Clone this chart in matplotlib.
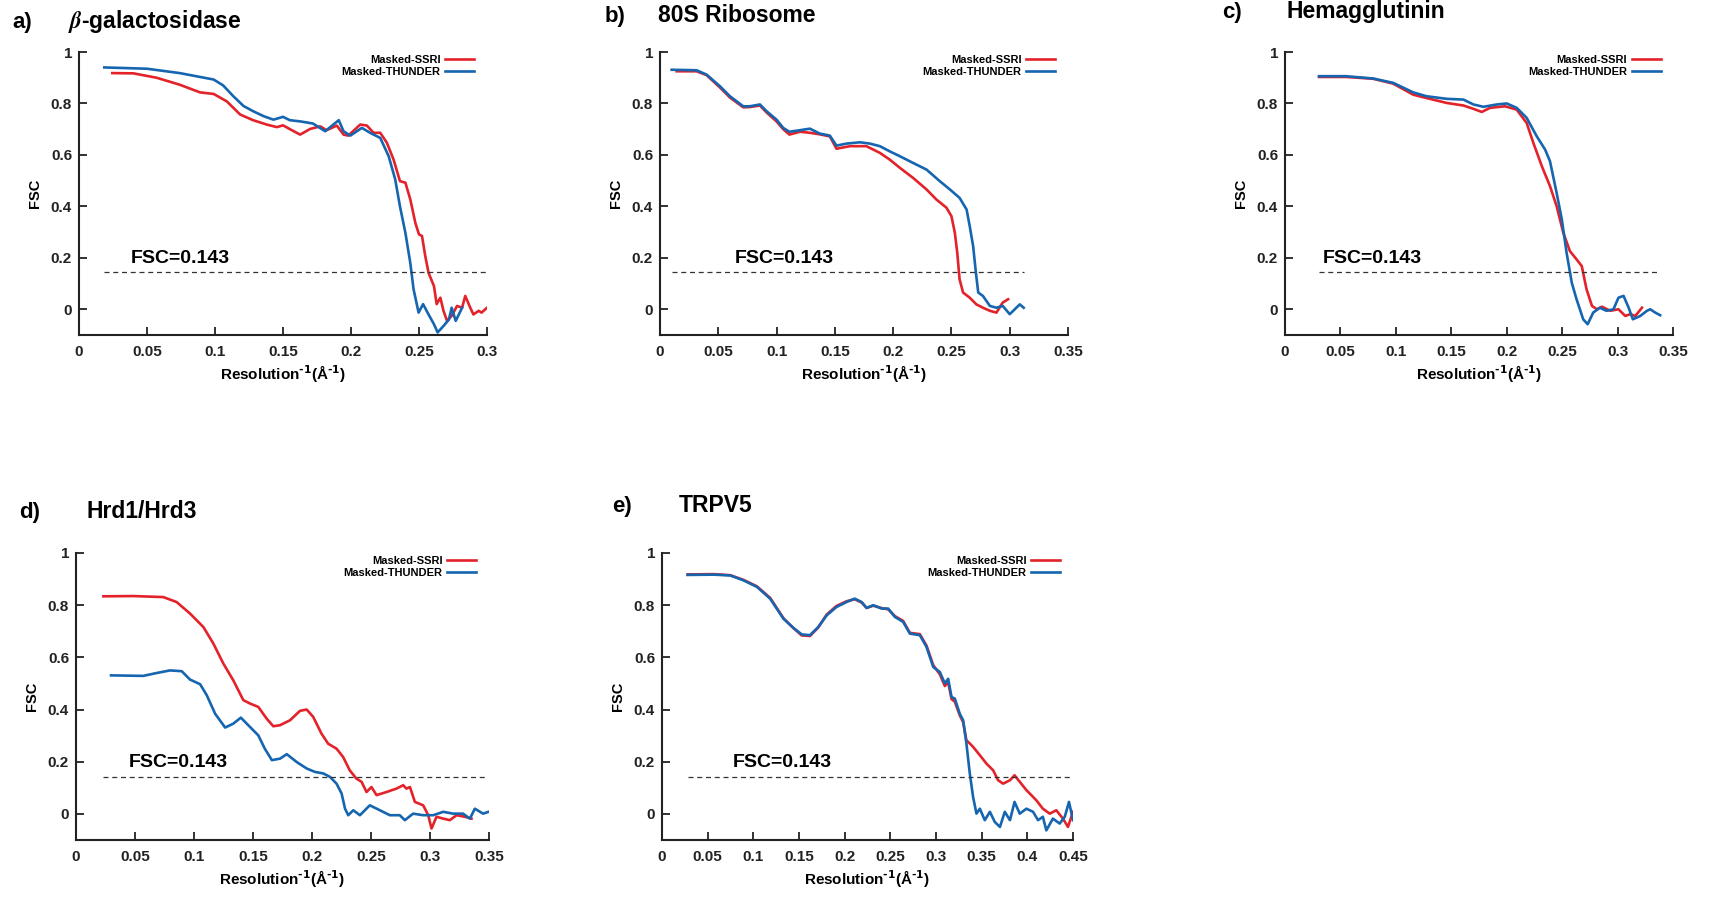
import matplotlib
matplotlib.use("Agg")
import matplotlib.pyplot as plt

plt.rcParams['font.family'] = ['Liberation Sans', 'DejaVu Sans']
plt.rcParams['font.weight'] = 'bold'
plt.rcParams['mathtext.default'] = 'regular'

RED = '#E3222A'
BLUE = '#1565B0'

# ---------------- data ----------------
titles = [r'$\mathit{\beta}$-galactosidase', '80S Ribosome', 'Hemagglutinin', 'Hrd1/Hrd3', 'TRPV5']
letters = ['a)', 'b)', 'c)', 'd)', 'e)']
xmax_list = [0.3, 0.35, 0.35, 0.35, 0.45]
threshold = 0.143

a_x_ssri = [0.0245, 0.04, 0.057, 0.074, 0.089, 0.099, 0.1087, 0.1185, 0.128, 0.138, 0.1455, 0.15, 0.1565,
            0.1626, 0.17, 0.1774, 0.182, 0.1896, 0.1945, 0.198, 0.2068, 0.2117, 0.2166, 0.2215, 0.2264,
            0.2313, 0.236, 0.24, 0.2436, 0.2473, 0.25, 0.2522, 0.2546, 0.257, 0.261, 0.263, 0.2657, 0.268,
            0.2706, 0.274, 0.278, 0.2817, 0.284, 0.2877, 0.290, 0.2939, 0.296, 0.3]
a_y_ssri = [0.918, 0.917, 0.9, 0.873, 0.843, 0.837, 0.808, 0.757, 0.735, 0.718, 0.708, 0.715, 0.696,
            0.679, 0.701, 0.711, 0.696, 0.714, 0.679, 0.675, 0.718, 0.714, 0.686, 0.686, 0.647,
            0.582, 0.498, 0.492, 0.427, 0.336, 0.291, 0.285, 0.207, 0.142, 0.09, 0.02, 0.045, -0.006,
            -0.045, -0.026, 0.013, 0.006, 0.052, 0.006, -0.02, -0.006, -0.013, 0.006]
a_x_thunder = [0.0186, 0.05, 0.074, 0.089, 0.099, 0.106, 0.1135, 0.121, 0.128, 0.136, 0.143, 0.15, 0.155,
               0.163, 0.172, 0.181, 0.191, 0.1945, 0.1995, 0.208, 0.214, 0.2215, 0.2277, 0.2325, 0.236,
               0.24, 0.2436, 0.246, 0.2497, 0.253, 0.257, 0.261, 0.2637, 0.268, 0.272, 0.274, 0.277, 0.2817]
a_y_thunder = [0.94, 0.935, 0.918, 0.903, 0.893, 0.87, 0.828, 0.79, 0.77, 0.75, 0.737, 0.748, 0.735,
               0.73, 0.722, 0.692, 0.735, 0.692, 0.675, 0.705, 0.686, 0.666, 0.595, 0.505, 0.40,
               0.297, 0.18, 0.078, -0.013, 0.02, -0.02, -0.058, -0.09, -0.065, -0.04, 0.006, -0.045, 0.006]

b_x_ssri = [0.0143, 0.0314, 0.04, 0.0514, 0.06, 0.0714, 0.077, 0.0857, 0.0914, 0.1, 0.1057, 0.111, 0.12,
            0.1286, 0.137, 0.1457, 0.1514, 0.163, 0.177, 0.1886, 0.197, 0.2057, 0.217, 0.2286, 0.237,
            0.2457, 0.25, 0.2529, 0.255, 0.257, 0.26, 0.2657, 0.2714, 0.277, 0.283, 0.2886, 0.294, 0.2986]
b_y_ssri = [0.925, 0.925, 0.91, 0.862, 0.823, 0.785, 0.786, 0.792, 0.765, 0.73, 0.7, 0.679, 0.69,
            0.686, 0.68, 0.672, 0.624, 0.634, 0.634, 0.608, 0.582, 0.55, 0.511, 0.466, 0.427,
            0.395, 0.362, 0.298, 0.22, 0.116, 0.065, 0.045, 0.019, 0.006, -0.006, -0.013, 0.026, 0.039]
b_x_thunder = [0.01, 0.0314, 0.04, 0.0514, 0.06, 0.0714, 0.077, 0.0857, 0.0914, 0.1, 0.1057, 0.111, 0.12,
               0.1286, 0.137, 0.1457, 0.1514, 0.16, 0.1714, 0.18, 0.1886, 0.197, 0.2057, 0.217, 0.2286,
               0.24, 0.2486, 0.257, 0.263, 0.2657, 0.2686, 0.271, 0.273, 0.277, 0.283, 0.2886, 0.294,
               0.3, 0.303, 0.3086, 0.312]
b_y_thunder = [0.931, 0.929, 0.912, 0.867, 0.828, 0.789, 0.789, 0.796, 0.77, 0.737, 0.705, 0.69, 0.696,
               0.702, 0.683, 0.675, 0.636, 0.644, 0.649, 0.644, 0.634, 0.614, 0.595, 0.569, 0.543,
               0.498, 0.466, 0.433, 0.388, 0.323, 0.246, 0.142, 0.065, 0.052, 0.013, 0.006, 0.013,
               -0.019, -0.006, 0.019, 0.006]

c_x_ssri = [0.0307, 0.055, 0.0795, 0.0976, 0.1157, 0.1277, 0.1458, 0.161, 0.17, 0.1775, 0.185, 0.1985,
            0.209, 0.218, 0.224, 0.2317, 0.239, 0.245, 0.251, 0.257, 0.263, 0.2677, 0.272, 0.2769,
            0.2814, 0.2859, 0.2934, 0.3008, 0.307, 0.3114, 0.316, 0.322]
c_y_ssri = [0.903, 0.903, 0.896, 0.877, 0.834, 0.821, 0.802, 0.792, 0.779, 0.767, 0.783, 0.789,
            0.776, 0.724, 0.647, 0.556, 0.479, 0.401, 0.298, 0.226, 0.194, 0.168, 0.078, 0.013,
            0.0, 0.01, -0.006, 0.0, -0.026, -0.019, -0.026, 0.006]
c_x_thunder = [0.0307, 0.055, 0.0795, 0.0976, 0.1157, 0.1277, 0.1458, 0.161, 0.17, 0.179, 0.191, 0.2,
               0.209, 0.218, 0.227, 0.2346, 0.239, 0.245, 0.2497, 0.254, 0.2587, 0.263, 0.269, 0.273,
               0.278, 0.284, 0.29, 0.2963, 0.3008, 0.3054, 0.31, 0.3138, 0.3205, 0.3265, 0.3295,
               0.334, 0.3384]
c_y_thunder = [0.906, 0.906, 0.897, 0.88, 0.843, 0.828, 0.818, 0.815, 0.796, 0.787, 0.796, 0.8,
               0.783, 0.744, 0.673, 0.621, 0.576, 0.453, 0.349, 0.22, 0.103, 0.039, -0.039, -0.058,
               -0.013, 0.006, -0.006, 0.0, 0.045, 0.052, 0.006, -0.039, -0.026, -0.006, 0.0,
               -0.013, -0.023]

d_x_ssri = [0.0232, 0.0486, 0.074, 0.0853, 0.0966, 0.108, 0.1164, 0.1249, 0.1333, 0.1418, 0.1475, 0.1545,
            0.1616, 0.1672, 0.1729, 0.1814, 0.1898, 0.1955, 0.201, 0.208, 0.2137, 0.2208, 0.2264, 0.232,
            0.2377, 0.242, 0.2462, 0.2504, 0.2547, 0.2632, 0.2716, 0.2773, 0.28, 0.283, 0.2872, 0.2942,
            0.2985, 0.3013, 0.3055, 0.3112, 0.3168, 0.3225, 0.3295, 0.3352]
d_y_ssri = [0.834, 0.835, 0.831, 0.812, 0.768, 0.716, 0.653, 0.576, 0.512, 0.436, 0.423, 0.41,
            0.365, 0.336, 0.34, 0.359, 0.395, 0.4, 0.372, 0.308, 0.269, 0.25, 0.218, 0.167,
            0.135, 0.123, 0.084, 0.103, 0.072, 0.084, 0.097, 0.11, 0.097, 0.103, 0.046, 0.033,
            -0.005, -0.056, -0.011, -0.018, -0.024, -0.005, -0.011, -0.018]
d_x_thunder = [0.0297, 0.057, 0.0683, 0.0797, 0.0896, 0.0966, 0.1052, 0.1108, 0.1179, 0.1264, 0.1333,
               0.1397, 0.146, 0.1545, 0.16, 0.166, 0.173, 0.1786, 0.187, 0.1955, 0.2025, 0.2096,
               0.2152, 0.2208, 0.2251, 0.228, 0.2307, 0.235, 0.2406, 0.249, 0.2575, 0.266, 0.2744,
               0.2787, 0.2857, 0.2942, 0.3027, 0.3112, 0.3196, 0.328, 0.3338, 0.338, 0.345, 0.3495]
d_y_thunder = [0.531, 0.529, 0.54, 0.55, 0.547, 0.515, 0.497, 0.455, 0.384, 0.331, 0.346,
               0.369, 0.34, 0.301, 0.25, 0.206, 0.212, 0.229, 0.199, 0.174, 0.161, 0.155,
               0.142, 0.116, 0.078, 0.02, -0.005, 0.014, -0.005, 0.033, 0.014, -0.005, -0.005,
               -0.024, 0.001, -0.005, -0.005, 0.008, 0.001, 0.001, -0.018, 0.02, 0.001, 0.008]

e_x_ssri = [0.028, 0.0565, 0.0747, 0.0893, 0.104, 0.1184, 0.133, 0.1439, 0.153, 0.162, 0.171, 0.1803,
            0.191, 0.202, 0.211, 0.2186, 0.224, 0.2313, 0.2404, 0.2477, 0.255, 0.264, 0.2714, 0.2823,
            0.2896, 0.297, 0.3042, 0.3097, 0.3133, 0.317, 0.3206, 0.326, 0.3297, 0.3333, 0.337,
            0.3406, 0.348, 0.3552, 0.3626, 0.368, 0.3735, 0.381, 0.386, 0.3917, 0.399, 0.4044,
            0.4099, 0.417, 0.4245, 0.4317, 0.439, 0.4445, 0.45]
e_y_ssri = [0.918, 0.919, 0.915, 0.897, 0.872, 0.828, 0.75, 0.712, 0.684, 0.682, 0.714, 0.764,
            0.797, 0.815, 0.823, 0.81, 0.79, 0.798, 0.789, 0.784, 0.758, 0.74, 0.694, 0.689,
            0.645, 0.57, 0.535, 0.49, 0.505, 0.44, 0.43, 0.378, 0.352, 0.282, 0.27,
            0.257, 0.225, 0.193, 0.167, 0.129, 0.116, 0.129, 0.148, 0.123, 0.091, 0.072,
            0.052, 0.02, 0.001, 0.014, -0.018, -0.05, 0.008]
e_x_thunder = [0.028, 0.0565, 0.0747, 0.0893, 0.104, 0.1184, 0.133, 0.1439, 0.153, 0.162, 0.171, 0.1803,
               0.191, 0.202, 0.211, 0.2186, 0.224, 0.2313, 0.2404, 0.2477, 0.255, 0.264, 0.2714, 0.2823,
               0.2896, 0.297, 0.3042, 0.3097, 0.3133, 0.317, 0.3206, 0.326, 0.3297, 0.3333, 0.337,
               0.3406, 0.3443, 0.348, 0.3534, 0.359, 0.3644, 0.37, 0.3753, 0.381, 0.386, 0.3917,
               0.399, 0.4063, 0.4117, 0.417, 0.4208, 0.428, 0.4354, 0.441, 0.4456, 0.45]
e_y_thunder = [0.916, 0.917, 0.914, 0.895, 0.87, 0.825, 0.748, 0.713, 0.688, 0.685, 0.716, 0.761,
               0.793, 0.812, 0.825, 0.812, 0.789, 0.8, 0.787, 0.787, 0.755, 0.736, 0.691, 0.685,
               0.64, 0.563, 0.544, 0.5, 0.518, 0.448, 0.442, 0.384, 0.359, 0.27, 0.155,
               0.065, 0.001, 0.02, -0.024, 0.008, -0.031, -0.05, 0.008, -0.024, 0.046, 0.001,
               0.02, 0.008, -0.024, -0.011, -0.063, -0.018, -0.037, -0.011, 0.046, -0.024]

series = [
    (a_x_ssri, a_y_ssri, a_x_thunder, a_y_thunder),
    (b_x_ssri, b_y_ssri, b_x_thunder, b_y_thunder),
    (c_x_ssri, c_y_ssri, c_x_thunder, c_y_thunder),
    (d_x_ssri, d_y_ssri, d_x_thunder, d_y_thunder),
    (e_x_ssri, e_y_ssri, e_x_thunder, e_y_thunder),
]

# ---------------- layout ----------------
W, H = 1728, 898
fig = plt.figure(figsize=(W / 100, H / 100), dpi=100)

# pixel boxes: left, right, top, bottom
boxes = [(79, 487, 52, 335), (660, 1068, 52, 335), (1285, 1673, 52, 335),
         (76, 489, 553, 840), (662, 1073, 553, 840)]
letter_pos = [(12, 28), (605, 22), (1222, 18), (19, 518), (612, 512)]
title_pos = [(68, 28), (658, 22), (1286, 18), (87, 518), (679, 512)]
fsc_text_x = [0.038, 0.064, 0.034, 0.045, 0.078]

for i, (box, (xs, ys, xt, yt)) in enumerate(zip(boxes, series)):
    l, r, t, b = box
    ax = fig.add_axes([l / W, 1 - b / H, (r - l) / W, (b - t) / H])
    h1, = ax.plot(xs, ys, color=RED, lw=1.9, solid_joinstyle='round')
    h2, = ax.plot(xt, yt, color=BLUE, lw=1.9, solid_joinstyle='round')
    x0 = min(xs[0], xt[0])
    x1 = max(xs[-1], xt[-1])
    ax.plot([x0, x1], [threshold, threshold], color='#333333', lw=0.9, dashes=(4, 3))
    ax.text(fsc_text_x[i], 0.165, 'FSC=0.143', fontsize=14, fontweight='bold', ha='left', va='bottom')

    xm = xmax_list[i]
    ax.set_xlim(0, xm)
    ax.set_ylim(-0.1, 1.0)
    nt = int(round(xm / 0.05)) + 1
    xticks = [k * 0.05 for k in range(nt)]
    ax.set_xticks(xticks)
    ax.set_xticklabels(['0'] + ['%g' % v for v in xticks[1:]])
    ax.set_yticks([0, 0.2, 0.4, 0.6, 0.8, 1.0])
    ax.set_yticklabels(['0', '0.2', '0.4', '0.6', '0.8', '1'])
    for s in ['top', 'right']:
        ax.spines[s].set_visible(False)
    for s in ['left', 'bottom']:
        ax.spines[s].set_linewidth(1.5)
        ax.spines[s].set_color('#222222')
    ax.tick_params(direction='in', length=6, width=1.3, labelsize=11, colors='#222222')
    ax.tick_params(axis='y', pad=5)
    ax.tick_params(axis='x', pad=7)
    for lab in ax.get_xticklabels() + ax.get_yticklabels():
        lab.set_fontweight('bold')
    ax.set_ylabel('FSC', fontsize=10.5, fontweight='bold', labelpad=6)
    ax.set_xlabel(r'Resolution$^{\text{-1}}$(Å$^{\text{-1}}$)', fontsize=11, fontweight='bold', labelpad=3)

    leg = ax.legend([h1, h2], ['Masked-SSRI', 'Masked-THUNDER'], loc='upper right',
                    bbox_to_anchor=(0.968, 0.99), frameon=False, markerfirst=False,
                    prop={'size': 8, 'weight': 'bold'}, handlelength=2.6, handletextpad=0.4,
                    labelspacing=0.2, borderpad=0, borderaxespad=0)

    fig.text(letter_pos[i][0] / W, 1 - letter_pos[i][1] / H, letters[i], fontsize=16,
             fontweight='bold', ha='left', va='baseline')
    if i == 0:
        fig.text(title_pos[i][0] / W, 1 - title_pos[i][1] / H, titles[i], fontsize=16.5,
                 fontweight='bold', ha='left', va='baseline', math_fontfamily='stix')
    else:
        fig.text(title_pos[i][0] / W, 1 - title_pos[i][1] / H, titles[i], fontsize=16.5,
                 fontweight='bold', ha='left', va='baseline')

fig.savefig('out.png', dpi=100)
